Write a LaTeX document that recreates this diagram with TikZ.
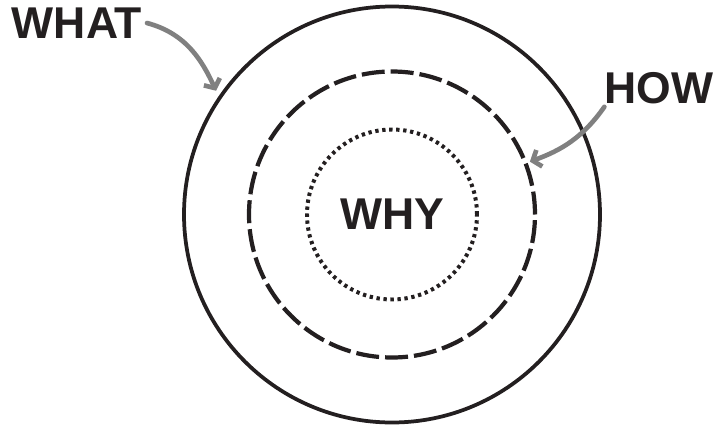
\documentclass[tikz,border=0pt]{standalone}
\usepackage{fontspec}
\setmainfont{Liberation Sans}
\usepackage{xcolor}
\usepackage{tikz}
\usetikzlibrary{calc, positioning, arrows.meta}

\definecolor{inkgray}{gray}{0.5}
\definecolor{inkdark}{HTML}{231F20}

\tikzset{
    ring/.style={circle, draw=inkdark, inner sep=0pt, outer sep=0pt},
    word/.style={inner sep=0pt, text=inkdark, font=\bfseries\fontsize{38}{40}\selectfont},
    pointer/.style={->, draw=inkgray, line width=4pt, line cap=round}
}

\begin{document}
\begin{tikzpicture}[>={Straight Barb[length=6pt, width=15pt]}]
    \useasboundingbox (-11.76,-6.315) rectangle (9.75,6.435);

    % Ba vòng tròn
    \node[ring, line width=3.2pt, minimum size=12.48cm] (outer) at (0,0) {};
    \node[ring, line width=3.6pt, dash pattern=on 0.69cm off 0.18cm, minimum size=8.58cm] (middle) at (0,0) {};
    \node[ring, line width=3.4pt, dash pattern=on 0.1cm off 0.11cm, minimum size=5.1cm,
          word] (why) at (0,0) {WHY};

    % Nhãn
    \node[word] (what) at (-9.45,5.745) {WHAT};
    \node[word] (how) at (8.01,3.78) {HOW};

    % Mũi tên
    \draw[pointer, shorten >=7pt] ([xshift=4pt]what.east) to[out=-15, in=115] (outer.146);
    \draw[pointer, shorten >=4pt] ([yshift=-2pt]how.south west) to[out=235, in=20] (middle.21);
\end{tikzpicture}
\end{document}
